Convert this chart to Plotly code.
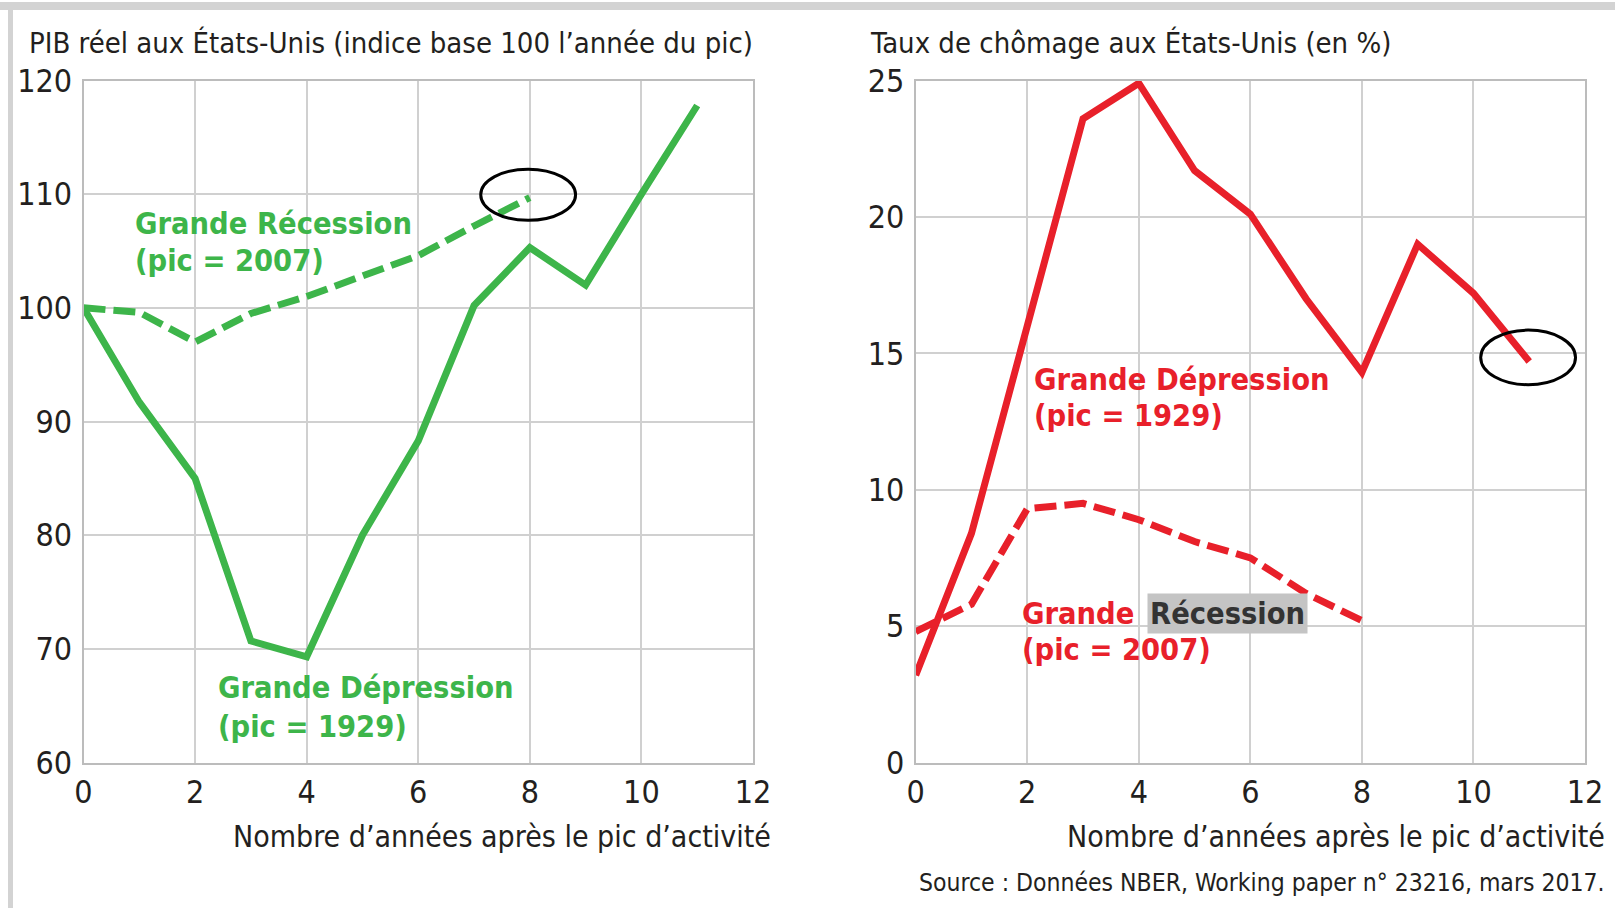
import plotly.graph_objects as go

# ---------------- data ----------------
years = list(range(0, 12))                      # 0..11 years after peak
years_rec = list(range(0, 9))                   # 0..8 for the 2007 recession

gdp_depression = [100, 91.7, 85.0, 70.7, 69.3, 80.0, 88.3, 100.2, 105.3, 102.0, 110.0, 117.8]
gdp_recession = [100, 99.6, 97.0, 99.5, 101.0, 102.8, 104.6, 107.2, 109.7]

unemp_depression = [3.2, 8.4, 16.0, 23.6, 24.9, 21.7, 20.1, 17.0, 14.3, 19.0, 17.2, 14.7]
unemp_recession = [4.8, 5.8, 9.3, 9.5, 8.9, 8.1, 7.5, 6.2, 5.2]

x_ticks = [0, 2, 4, 6, 8, 10, 12]
gdp_ticks = [60, 70, 80, 90, 100, 110, 120]
unemp_ticks = [0, 5, 10, 15, 20, 25]

title_left = "PIB réel aux États-Unis (indice base 100 l’année du pic)"
title_right = "Taux de chômage aux États-Unis (en %)"
xlabel = "Nombre d’années après le pic d’activité"
source = "Source : Données NBER, Working paper n° 23216, mars 2017."

# ---------------- style ----------------
W, H = 1615, 908
GREEN = "#3db54a"
RED = "#e8202a"
TXT = "#231f20"
GRID = "#d0d0d0"
AXL = "#bcbcbc"
FONT = "DejaVu Sans Condensed, Liberation Sans Narrow, sans-serif"


def px_x(p):
    return p / W


def px_y(p):
    return 1 - p / H


fig = go.Figure()

fig.add_trace(go.Scatter(x=years, y=gdp_depression, mode="lines",
                         line=dict(color=GREEN, width=7), xaxis="x", yaxis="y"))
fig.add_trace(go.Scatter(x=years_rec, y=gdp_recession, mode="lines",
                         line=dict(color=GREEN, width=7, dash="22px,8px"), xaxis="x", yaxis="y"))
fig.add_trace(go.Scatter(x=years, y=unemp_depression, mode="lines",
                         line=dict(color=RED, width=7), xaxis="x2", yaxis="y2"))
fig.add_trace(go.Scatter(x=years_rec, y=unemp_recession, mode="lines",
                         line=dict(color=RED, width=7, dash="22px,8px"), xaxis="x2", yaxis="y2"))

ydom = [px_y(762.5), px_y(80.5)]
axis_common = dict(showgrid=True, gridcolor=GRID, gridwidth=2, showline=True, linecolor=AXL,
                   linewidth=2, mirror=True, zeroline=False, ticks="", automargin=False,
                   tickfont=dict(family=FONT, size=32, color=TXT), fixedrange=True)

fig.update_layout(
    width=W, height=H,
    margin=dict(l=0, r=0, t=0, b=0, autoexpand=False),
    paper_bgcolor="white", plot_bgcolor="white",
    showlegend=False,
    font=dict(family=FONT, color=TXT),
    xaxis=dict(domain=[px_x(83.5), px_x(753)], range=[0, 12], tickvals=x_ticks,
               anchor="y", **axis_common),
    yaxis=dict(domain=ydom, range=[60, 120], tickvals=gdp_ticks, anchor="x",
               ticklabelstandoff=3, **axis_common),
    xaxis2=dict(domain=[px_x(915.7), px_x(1585)], range=[0, 12], tickvals=x_ticks,
                anchor="y2", **axis_common),
    yaxis2=dict(domain=ydom, range=[0, 25], tickvals=unemp_ticks, anchor="x2",
                ticklabelstandoff=3, **axis_common),
)

# frame bars (top and left)
fig.add_shape(type="rect", xref="paper", yref="paper", x0=0, x1=1, y0=px_y(10), y1=px_y(2),
              fillcolor="#d3d3d3", line=dict(width=0), layer="below")
fig.add_shape(type="rect", xref="paper", yref="paper", x0=px_x(8), x1=px_x(13), y0=0, y1=px_y(2),
              fillcolor="#d3d3d3", line=dict(width=0), layer="below")

# ellipses around the last points
fig.add_shape(type="circle", xref="x", yref="y",
              x0=years_rec[-1] - 0.88, x1=years_rec[-1] + 0.82,
              y0=gdp_recession[-1] - 2.0, y1=gdp_recession[-1] + 2.5,
              line=dict(color="black", width=3))
fig.add_shape(type="circle", xref="x2", yref="y2",
              x0=years[-1] - 0.87, x1=years[-1] + 0.83,
              y0=unemp_depression[-1] - 0.85, y1=unemp_depression[-1] + 1.15,
              line=dict(color="black", width=3))

ann = []
# titles
ann.append(dict(text=title_left, xref="paper", yref="paper", x=px_x(27), y=px_y(43),
                xanchor="left", yanchor="middle", showarrow=False,
                font=dict(family=FONT, size=29, color=TXT)))
ann.append(dict(text=title_right, xref="paper", yref="paper", x=px_x(868), y=px_y(43),
                xanchor="left", yanchor="middle", showarrow=False,
                font=dict(family=FONT, size=29, color=TXT)))
# axis titles
ann.append(dict(text=xlabel, xref="paper", yref="paper", x=px_x(773), y=px_y(836),
                xanchor="right", yanchor="middle", showarrow=False,
                font=dict(family=FONT, size=30, color=TXT)))
ann.append(dict(text=xlabel, xref="paper", yref="paper", x=px_x(1607), y=px_y(836),
                xanchor="right", yanchor="middle", showarrow=False,
                font=dict(family=FONT, size=30, color=TXT)))
ann.append(dict(text=source, xref="paper", yref="paper", x=px_x(1607), y=px_y(882),
                xanchor="right", yanchor="middle", showarrow=False,
                font=dict(family=FONT, size=24.5, color=TXT)))

BOLD = 30.5


def lab(text, xref, yref, x, y, color, **kw):
    d = dict(text="<b>" + text + "</b>", xref=xref, yref=yref, x=x, y=y, xanchor="left",
             yanchor="middle", showarrow=False, font=dict(family=FONT, size=BOLD, color=color))
    d.update(kw)
    ann.append(d)


lab("Grande Récession", "x", "y", 0.89, 107.4, GREEN)
lab("(pic = 2007)", "x", "y", 0.89, 104.2, GREEN)
lab("Grande Dépression", "x", "y", 2.37, 66.6, GREEN)
lab("(pic = 1929)", "x", "y", 2.37, 63.2, GREEN)

lab("Grande Dépression", "x2", "y2", 2.09, 14.05, RED)
lab("(pic = 1929)", "x2", "y2", 2.09, 12.72, RED)
lab("Grande", "x2", "y2", 1.87, 5.45, RED)
lab("Récession", "x2", "y2", 4.15, 5.45, "#333333", bgcolor="#c4c4c4", borderpad=2)
lab("(pic = 2007)", "x2", "y2", 1.87, 4.15, RED)

fig.update_layout(annotations=ann)

fig.write_html("out.html", config={"displayModeBar": False},
               post_script="document.body.style.margin='0';document.body.style.overflow='hidden';")
